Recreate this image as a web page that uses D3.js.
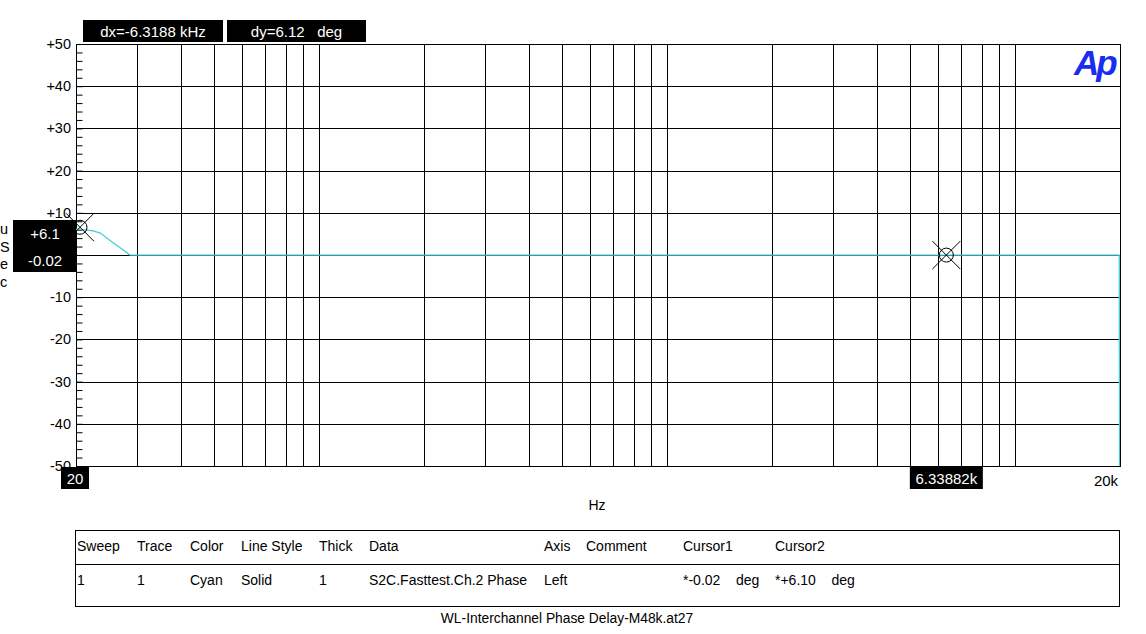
<!DOCTYPE html>
<html><head><meta charset="utf-8">
<script src="https://cdn.jsdelivr.net/npm/d3@7"></script>
<style>body{margin:0;background:#fff}svg text{font-family:"Liberation Sans",Arial,sans-serif}</style>
</head><body><svg id="c" width="1146" height="634"></svg>
<script>
// Data
const freqs  = [20, 21, 22.4, 23.5, 25, 26.5, 28.6, 35, 50, 100, 200, 500, 1000, 2000, 5000, 10000, 15000, 19900, 19950];
const phase  = [6.1, 6.0, 5.7, 5.2, 3.5, 2.0, -0.02, -0.02, -0.02, -0.02, -0.02, -0.02, -0.02, -0.02, -0.02, -0.02, -0.02, -0.02, -60];
const yTicks = [50, 40, 30, 20, 10, 0, -10, -20, -30, -40, -50];
const gridFreqs = [30,40,50,60,70,80,90,100,200,300,400,500,600,700,800,900,1000,2000,3000,4000,5000,6000,7000,8000,9000,10000];
const cursor1 = {f: 6338.82, v: -0.02, label: "6.33882k"};
const cursor2 = {f: 20, v: 6.1, label: "20"};
const readouts = ["dx=-6.3188 kHz", "dy=6.12   deg"];
const tableHeaders = ["Sweep","Trace","Color","Line Style","Thick","Data","Axis","Comment","Cursor1","Cursor2"];
const tableRow = ["1","1","Cyan","Solid","1","S2C.Fasttest.Ch.2 Phase","Left","","*-0.02    deg","*+6.10    deg"];
const yLabelChars = ["u","S","e","c"];
const title = "WL-Interchannel Phase Delay-M48k.at27";

const svg = d3.select("#c");
const L = 76, R = 1120, T = 44, B = 466;
const x = d3.scaleLog().domain([20, 20000]).range([L, R]);
const y = d3.scaleLinear().domain([-50, 50]).range([B, T]);

// grid
svg.append("g").selectAll("line").data(gridFreqs).join("line")
  .attr("x1", d => Math.round(x(d)) + 0.5).attr("x2", d => Math.round(x(d)) + 0.5)
  .attr("y1", T).attr("y2", B).attr("stroke", "#000").attr("stroke-width", 1);
svg.append("g").selectAll("line").data(yTicks).join("line")
  .attr("x1", L).attr("x2", R)
  .attr("y1", d => Math.round(y(d)) + 0.5).attr("y2", d => Math.round(y(d)) + 0.5)
  .attr("stroke", "#000");
// border
svg.append("rect").attr("x", L + 0.5).attr("y", T + 0.5).attr("width", R - L).attr("height", B - T)
  .attr("fill", "none").attr("stroke", "#000");

// left axis with minor ticks
const yAxis = d3.axisRight(y).tickValues(d3.range(-50, 51, 2)).tickSize(6).tickFormat("");
const ga = svg.append("g").attr("transform", `translate(${L + 0.5},0)`).call(yAxis);
ga.select(".domain").remove();
ga.selectAll("line").attr("stroke", "#000");
svg.append("g").selectAll("text").data(yTicks).join("text")
  .attr("x", 71).attr("y", d => y(d) + 5).attr("text-anchor", "end")
  .attr("font-size", 14.5).text(d => d > 0 ? "+" + d : d);

// trace
svg.append("clipPath").attr("id", "pc").append("rect")
  .attr("x", L).attr("y", T).attr("width", R - L).attr("height", B - T);
const line = d3.line().x((d, i) => x(freqs[i])).y(d => y(d));
svg.append("path").datum(phase).attr("d", line).attr("clip-path", "url(#pc)")
  .attr("fill", "none").attr("stroke", "#44ccd8").attr("stroke-width", 1.3);

// cursor markers
function marker(c, circle) {
  const cx = x(c.f) + (c.f === 20 ? 4 : 0), cy = y(c.v) - (c.f === 20 ? 2 : 0);
  const g = svg.append("g");
  g.append("line").attr("x1", cx - 14).attr("y1", cy - 14).attr("x2", cx + 14).attr("y2", cy + 14).attr("stroke", "#000");
  g.append("line").attr("x1", cx - 14).attr("y1", cy + 14).attr("x2", cx + 14).attr("y2", cy - 14).attr("stroke", "#000");
  if (circle) g.append("circle").attr("cx", cx).attr("cy", cy).attr("r", 7).attr("fill", "none").attr("stroke", "#000");
}
marker(cursor1, true);
marker(cursor2, true);

// y label vertical
svg.append("g").selectAll("text").data(yLabelChars).join("text")
  .attr("x", 0).attr("y", (d, i) => 234 + i * 17.5).attr("font-size", 14.5).text(d => d);

// left readout box
svg.append("rect").attr("x", 13).attr("y", 220).attr("width", 63).attr("height", 52).attr("fill", "#000");
svg.append("text").attr("x", 45).attr("y", 239).attr("text-anchor", "middle").attr("fill", "#fff").attr("font-size", 15).text("+" + cursor2.v.toFixed(1));
svg.append("text").attr("x", 45).attr("y", 266).attr("text-anchor", "middle").attr("fill", "#fff").attr("font-size", 15).text(cursor1.v.toFixed(2));

// top readout boxes
const boxes = [{x: 83, w: 140}, {x: 227, w: 139}];
readouts.forEach((t, i) => {
  svg.append("rect").attr("x", boxes[i].x).attr("y", 20).attr("width", boxes[i].w).attr("height", 22).attr("fill", "#000");
  svg.append("text").attr("x", boxes[i].x + boxes[i].w / 2).attr("y", 37).attr("text-anchor", "middle")
    .attr("fill", "#fff").attr("font-size", 15).attr("xml:space", "preserve").text(t);
});

// x labels
function xbox(c, w) {
  const cx = x(c.f) + (c.f === 20 ? -1 : 0);
  svg.append("rect").attr("x", cx - w / 2).attr("y", 467).attr("width", w).attr("height", 22).attr("fill", "#000");
  svg.append("text").attr("x", cx).attr("y", 484).attr("text-anchor", "middle").attr("fill", "#fff").attr("font-size", 15).text(c.label);
}
xbox(cursor2, 28);
xbox(cursor1, 73);
svg.append("text").attr("x", 1106).attr("y", 486).attr("text-anchor", "middle").attr("font-size", 15).text("20k");
svg.append("text").attr("x", 597).attr("y", 510).attr("text-anchor", "middle").attr("font-size", 14).text("Hz");

// Ap logo
svg.append("text").attr("x", 1074).attr("y", 75).attr("font-size", 35).attr("font-weight", "bold")
  .attr("font-style", "italic").attr("fill", "#1a2cf0").attr("letter-spacing", -3).text("Ap");

// table
svg.append("rect").attr("x", 75.5).attr("y", 530.5).attr("width", 1044).attr("height", 76).attr("fill", "none").attr("stroke", "#000");
svg.append("line").attr("x1", 75.5).attr("x2", 1119.5).attr("y1", 564.5).attr("y2", 564.5).attr("stroke", "#000");
const colX = [77, 137, 190, 241, 319, 369, 544, 586, 683, 775];
svg.append("g").selectAll("text").data(tableHeaders).join("text")
  .attr("x", (d, i) => colX[i]).attr("y", 551).attr("font-size", 14).text(d => d);
svg.append("g").selectAll("text").data(tableRow).join("text")
  .attr("x", (d, i) => colX[i]).attr("y", 585).attr("font-size", 14).attr("xml:space", "preserve").text(d => d);
svg.append("text").attr("x", 567).attr("y", 623).attr("text-anchor", "middle").attr("font-size", 13.8).text(title);
</script></body></html>
